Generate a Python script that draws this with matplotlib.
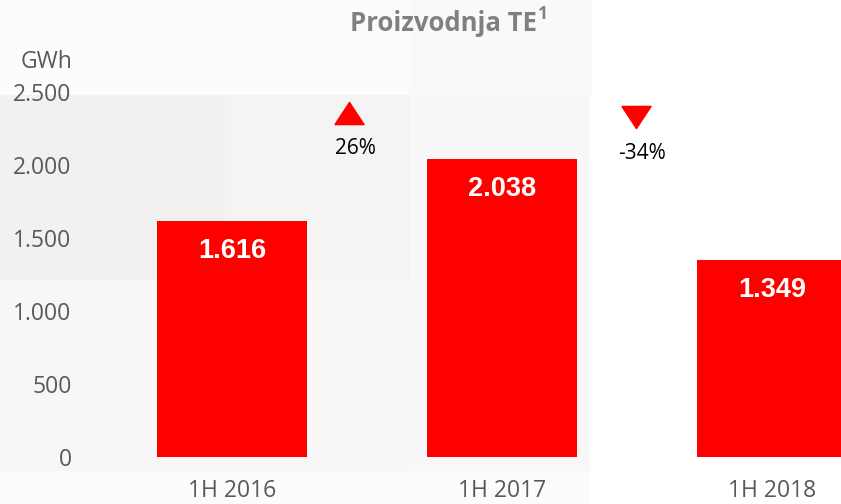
import matplotlib
matplotlib.use("Agg")
import matplotlib.pyplot as plt
from matplotlib.patches import Rectangle
from matplotlib.path import Path

# ---- data ----
categories = ["1H 2016", "1H 2017", "1H 2018"]
values = [1616, 2038, 1349]
value_labels = ["1.616", "2.038", "1.349"]
yticks = [0, 500, 1000, 1500, 2000, 2500]
ytick_labels = ["0", "500", "1.000", "1.500", "2.000", "2.500"]
changes = ["26%", "-34%"]
change_up = [True, False]
title = "Proizvodnja TE"
title_sup = "1"
unit = "GWh"

W, H = 841, 504
fig = plt.figure(figsize=(W / 100, H / 100), dpi=100, facecolor="#fcfcfc")

def fx(px):
    return px / W

def fy(py):
    return 1 - py / H

# subtle background shapes
bg = [
    (0, 95, 225, 185, "#f1f1f1"),
    (225, 95, 185, 185, "#f4f4f4"),
    (0, 280, 410, 190, "#f7f7f7"),
    (410, 95, 180, 375, "#f8f8f8"),
    (590, 0, 251, 504, "#ffffff"),
    (410, 0, 180, 95, "#f9f9f9"),
]
for x0, y0, w, h, c in bg:
    fig.patches.append(Rectangle((fx(x0), fy(y0 + h)), w / W, h / H,
                                 transform=fig.transFigure, color=c, zorder=-10))

ax_left, ax_right, ax_bottom, ax_top = 80, 841, 457, 92
ax = fig.add_axes([fx(ax_left), fy(ax_bottom), (ax_right - ax_left) / W,
                   (ax_bottom - ax_top) / H])
ax.patch.set_alpha(0)
for s in ax.spines.values():
    s.set_visible(False)

xpos = list(range(len(categories)))
step_px = 270
c0_px = 232
ax.set_xlim((ax_left - c0_px) / step_px, (ax_right - c0_px) / step_px)
ax.set_ylim(0, 2500)

ax.bar(xpos, values, width=150 / step_px, color="#ff0000", zorder=2, clip_on=False)

tick_font = "Open Sans"
ax.set_yticks(yticks)
ax.set_yticklabels(ytick_labels, fontsize=16.5, color="#595959", family=tick_font)
ax.set_xticks(xpos)
ax.set_xticklabels(categories, fontsize=16.5, color="#595959", family=tick_font)
ax.tick_params(axis="both", length=0)
ax.tick_params(axis="y", pad=6)
ax.tick_params(axis="x", pad=16)

for x, v, lab in zip(xpos, values, value_labels):
    ax.annotate(lab, (x, v), xytext=(0, -37), textcoords="offset pixels",
                ha="center", va="baseline", color="white", fontsize=19.5,
                fontweight="bold", family="Liberation Sans", zorder=3)

# change markers (layout positions between bars)
tri_pos = [(0.435, 2356), (1.496, 2329)]
txt_pos = [(0.456, 2113), (1.52, 2082)]
up = Path([(-1, -0.76), (1, -0.76), (0, 0.76), (-1, -0.76)])
down = Path([(-1, 0.76), (1, 0.76), (0, -0.76), (-1, 0.76)])
for (tx, ty), (sx, sy), lab, isup in zip(tri_pos, txt_pos, changes, change_up):
    ax.plot([tx], [ty], marker=up if isup else down, markersize=21,
            color="#ff0000", linestyle="none", clip_on=False, zorder=3)
    ax.text(sx, sy, lab, ha="center", va="center", fontsize=15,
            color="black", family=tick_font, clip_on=False)

fig.text(fx(73), fy(62), unit, ha="right", va="center", fontsize=16.5,
         color="#595959", family=tick_font)

t = fig.text(fx(350), fy(31), title, ha="left", va="baseline", fontsize=18.5,
             fontweight="bold", color="#808080", family=tick_font)
fig.canvas.draw()
bb = t.get_window_extent()
fig.text((bb.x1 + 1) / W, fy(19), title_sup, ha="left", va="baseline",
         fontsize=12.5, fontweight="bold", color="#808080", family=tick_font)

fig.savefig("out.png", dpi=100, facecolor=fig.get_facecolor())
